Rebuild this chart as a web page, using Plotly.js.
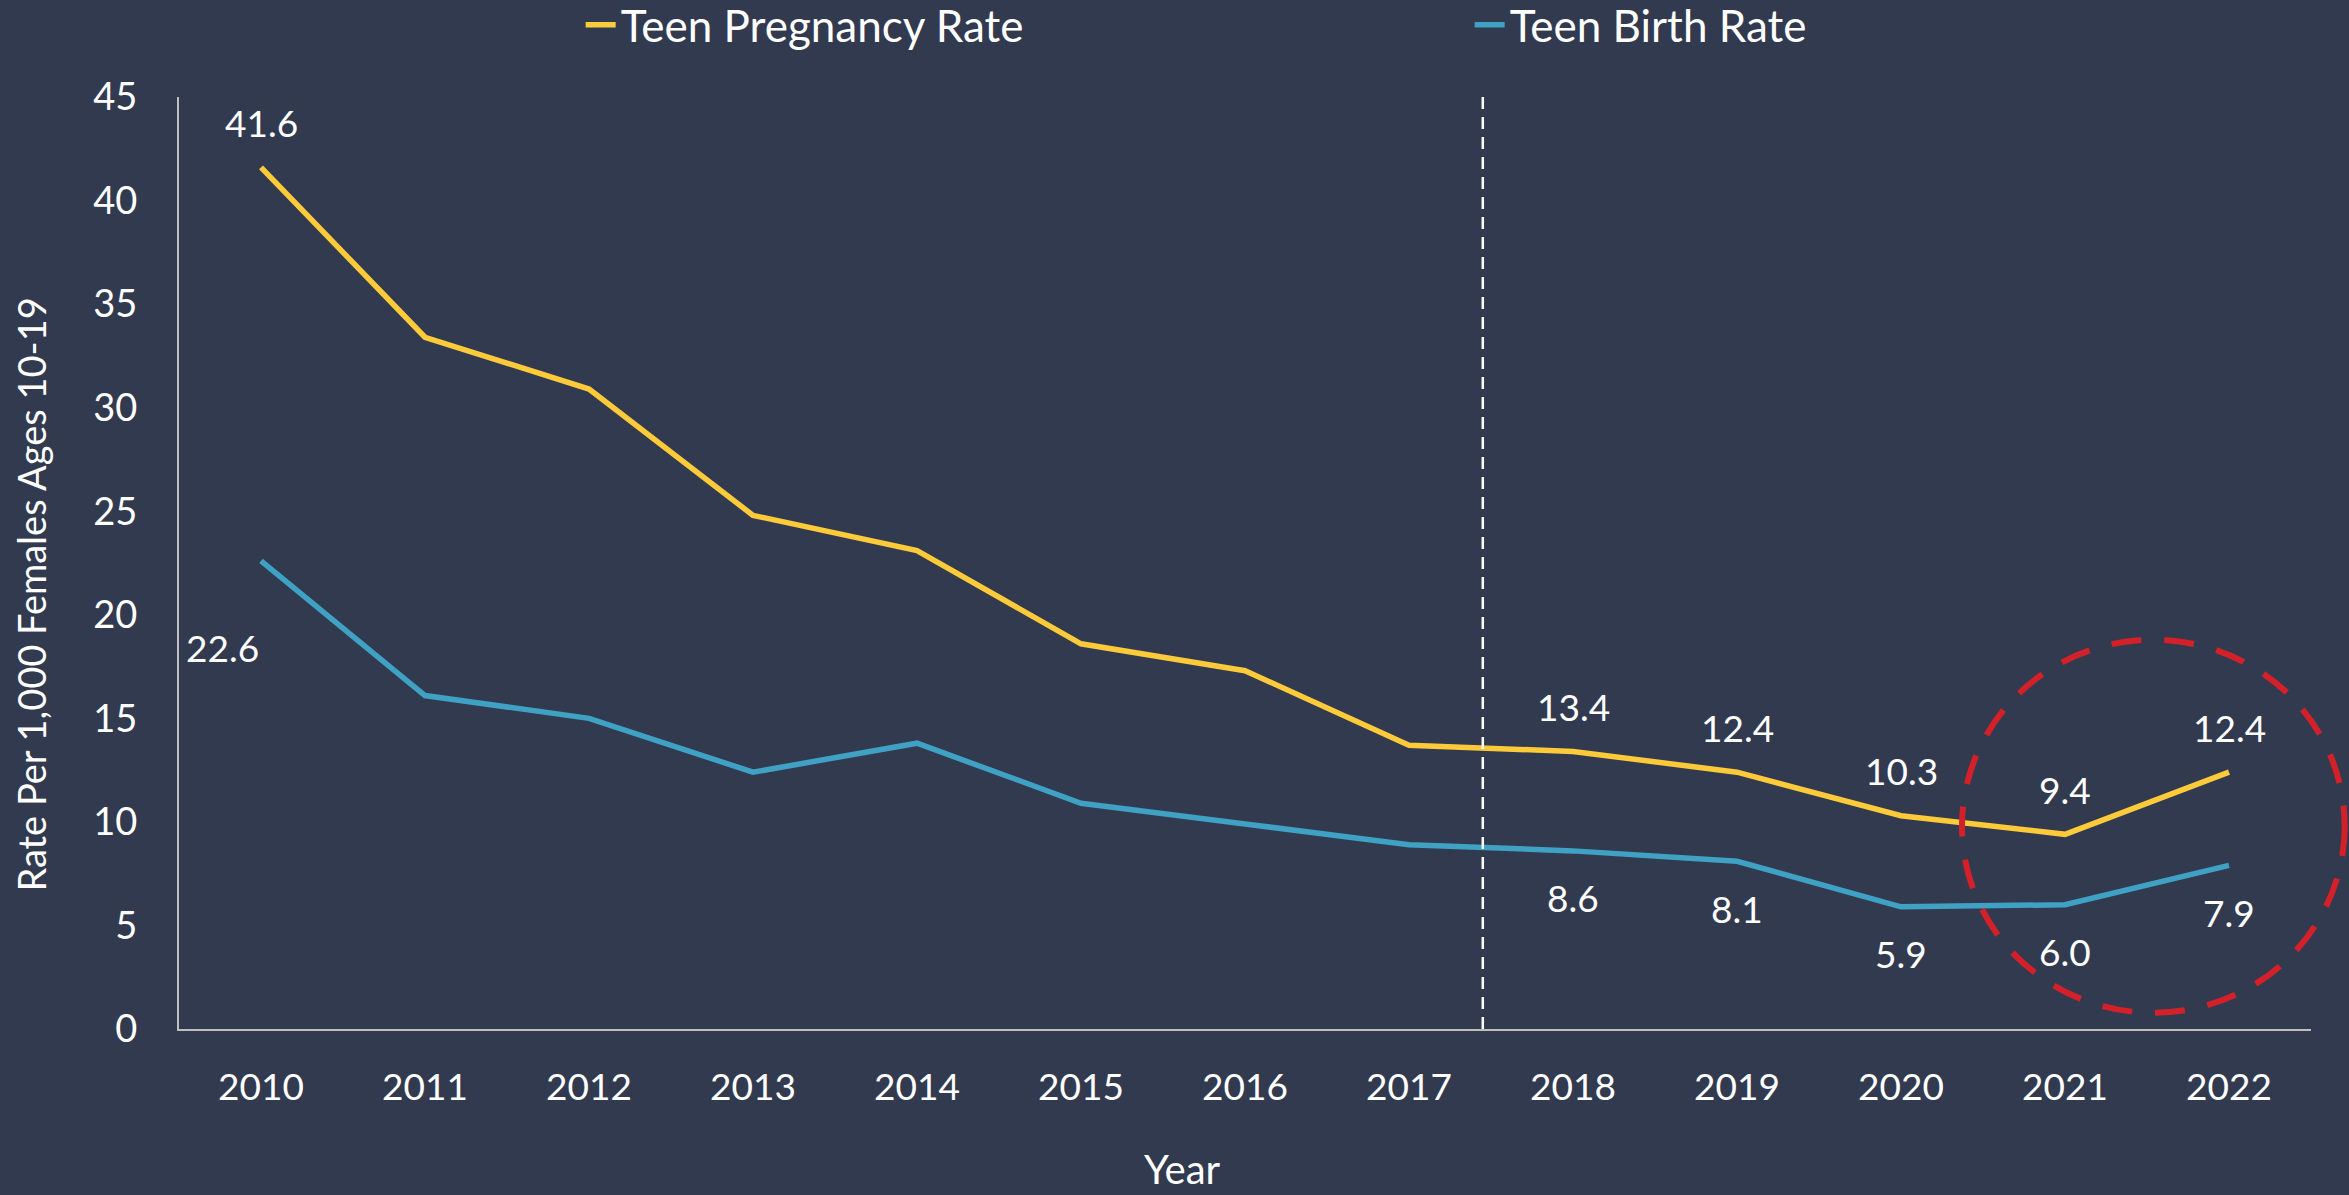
<!DOCTYPE html>
<html>
<head>
<meta charset="utf-8">
<script src="https://cdn.plot.ly/plotly-3.0.1.min.js"></script>
<style>
  html, body { margin: 0; padding: 0; background: #323A50; }
  #chart { width: 2349px; height: 1195px; }
</style>
</head>
<body>
<div id="chart"></div>
<script>
// ---- Data ----
const years = ['2010','2011','2012','2013','2014','2015','2016','2017','2018','2019','2020','2021','2022'];
const pregnancyRate = [41.6, 33.4, 30.9, 24.8, 23.1, 18.6, 17.3, 13.7, 13.4, 12.4, 10.3, 9.4, 12.4];
const birthRate = [22.6, 16.1, 15.0, 12.4, 13.8, 10.9, 9.9, 8.9, 8.6, 8.1, 5.9, 6.0, 7.9];
const labeledIdx = [0, 8, 9, 10, 11, 12];
const seriesNames = ['Teen Pregnancy Rate', 'Teen Birth Rate'];
const yTicks = [0, 5, 10, 15, 20, 25, 30, 35, 40, 45];

// ---- Styles ----
const BG = '#323A50';
const YELLOW = '#FDCB3A';
const BLUE = '#3FA2C4';
const FONT = 'Lato, "Open Sans", sans-serif';
const TXT = '#FFFFFF';

const traces = [
  { x: years, y: pregnancyRate, name: seriesNames[0], type: 'scatter', mode: 'lines',
    line: { color: YELLOW, width: 5.5 }, hoverinfo: 'x+y' },
  { x: years, y: birthRate, name: seriesNames[1], type: 'scatter', mode: 'lines',
    line: { color: BLUE, width: 5.5 }, hoverinfo: 'x+y' }
];

const annotations = [];
labeledIdx.forEach(i => {
  annotations.push({ x: i, y: pregnancyRate[i], xref: 'x', yref: 'y',
    text: pregnancyRate[i].toFixed(1), showarrow: false, yshift: 45,
    font: { family: FONT, size: 37, color: TXT } });
  const first = (i === 0);
  annotations.push({ x: i, y: birthRate[i], xref: 'x', yref: 'y',
    text: birthRate[i].toFixed(1), showarrow: false,
    yshift: first ? -87 : -47, xshift: first ? -39 : 0,
    font: { family: FONT, size: 37, color: TXT } });
});
// axis titles
annotations.push({ xref: 'paper', yref: 'paper', x: -0.0812, y: 0.466, text: 'Rate Per 1,000 Females Ages 10-19',
  textangle: -90, showarrow: false, font: { family: FONT, size: 38, color: TXT } });
annotations.push({ xref: 'paper', yref: 'paper', x: 0.4705, y: -0.1778, text: 'Year', yanchor: 'bottom',
  showarrow: false, font: { family: FONT, size: 40, color: TXT } });

const layout = {
  width: 2349, height: 1195,
  paper_bgcolor: BG, plot_bgcolor: BG,
  margin: { l: 179, r: 38, t: 97, b: 166, autoexpand: false },
  font: { family: FONT, color: TXT, size: 36 },
  showlegend: true,
  legend: { orientation: 'h', x: 0.1884, y: 1.077, xanchor: 'left', yanchor: 'middle',
    font: { family: FONT, size: 44, color: TXT }, entrywidth: 844, bgcolor: 'rgba(0,0,0,0)' },
  xaxis: { type: 'category', range: [-0.5, 12.5], showgrid: false, zeroline: false,
    showline: true, linecolor: '#BFBFBF', linewidth: 2, ticks: '',
    ticklabelstandoff: 25, tickfont: { family: FONT, size: 37, color: TXT } },
  yaxis: { range: [0, 45], tickvals: yTicks, showgrid: false, zeroline: false,
    showline: true, linecolor: '#BFBFBF', linewidth: 2, ticks: '',
    ticklabelstandoff: 32, tickfont: { family: FONT, size: 38, color: TXT } },
  shapes: [
    { type: 'line', xref: 'x', yref: 'paper', x0: 7.45, x1: 7.45, y0: 0, y1: 1,
      line: { color: '#FFFFFF', width: 2.5, dash: '12px,8px' } },
    { type: 'circle', xref: 'paper', yref: 'paper', x0: 0.8363, x1: 1.0158, y0: 0.0174, y1: 0.4177,
      line: { color: '#D42129', width: 6, dash: '30px,23px' } }
  ],
  annotations: annotations
};

Plotly.newPlot('chart', traces, layout, { displayModeBar: false, staticPlot: true });
</script>
</body>
</html>
